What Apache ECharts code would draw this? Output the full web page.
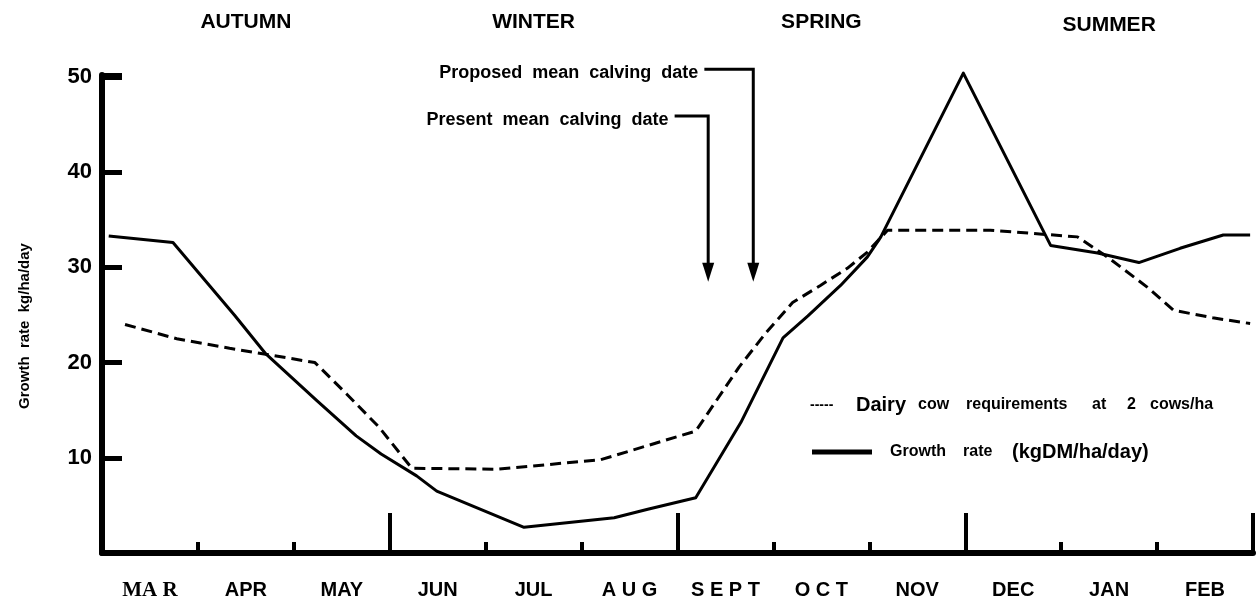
<!DOCTYPE html>
<html><head><meta charset="utf-8">
<script src="https://cdn.jsdelivr.net/npm/echarts@6/dist/echarts.min.js"></script>
<style>html,body{margin:0;padding:0;background:#fff}#c{width:1257px;height:606px}</style>
</head><body><div id="c"></div>
<script>
// x is months elapsed since 1 March (0..12)
const months = ['MA R', 'APR', 'MAY', 'JUN', 'JUL', 'A U G', 'S E P T', 'O C T', 'NOV', 'DEC', 'JAN', 'FEB'];
const seasons = ['AUTUMN', 'WINTER', 'SPRING', 'SUMMER'];
const seasonCentres = [1.5, 4.5, 7.5, 10.5];
const yTickValues = [10, 20, 30, 40, 50];
const growthRate = [
  [0.07, 33.3], [0.74, 32.6], [1.38, 25.0], [1.70, 21.0], [2.24, 16.0], [2.65, 12.3], [2.91, 10.4],
  [3.28, 8.1], [3.49, 6.5], [4.40, 2.7], [5.34, 3.7], [5.69, 4.6], [6.19, 5.8], [6.66, 13.7],
  [7.10, 22.6], [7.36, 24.9], [7.70, 28.1], [7.98, 31.1], [8.12, 33.2], [8.98, 50.4], [9.89, 32.3],
  [10.38, 31.5], [10.81, 30.5], [11.24, 32.0], [11.69, 33.4], [11.97, 33.4]
];
const cowRequirement = [
  [0.24, 24.0], [0.78, 22.5], [1.33, 21.5], [1.69, 20.9], [2.22, 20.0], [2.55, 16.7], [2.89, 13.2],
  [3.23, 8.9], [4.13, 8.8], [5.20, 9.8], [6.19, 12.8], [6.64, 19.5], [6.92, 23.1], [7.20, 26.3],
  [7.49, 28.1], [7.77, 29.9], [7.98, 31.6], [8.19, 33.9], [9.26, 33.9], [10.17, 33.2], [10.48, 31.1],
  [10.90, 27.9], [11.17, 25.5], [11.58, 24.7], [11.97, 24.1]
];
// calving-date arrows: x position, elbow start, top level of the elbow, arrow tip level
const calvingDates = [
  { label: 'Present  mean  calving  date', x: 6.32, elbowX: 5.97, top: 45.9, tip: 28.5 },
  { label: 'Proposed  mean  calving  date', x: 6.79, elbowX: 6.28, top: 50.8, tip: 28.5 }
];

const chart = echarts.init(document.getElementById('c'));
const gridRect = { left: 102, right: 4, top: 75, bottom: 53 };
const black = '#000';
const font = '"Liberation Sans", Arial, sans-serif';

chart.setOption({
  animation: false,
  backgroundColor: '#fff',
  grid: [Object.assign({}, gridRect), Object.assign({}, gridRect), Object.assign({}, gridRect)],
  xAxis: [
    { type: 'value', gridIndex: 0, min: 0, max: 12, interval: 1,
      axisLine: { show: true, onZero: false, lineStyle: { color: black, width: 6 } },
      axisTick: { show: true, inside: true, length: 11, lineStyle: { color: black, width: 4 } },
      axisLabel: { show: false }, splitLine: { show: false } },
    { type: 'value', gridIndex: 1, min: 0, max: 12, interval: 3,
      axisLine: { show: false, onZero: false },
      axisTick: { show: true, inside: true, length: 40, lineStyle: { color: black, width: 4 } },
      axisLabel: { show: false }, splitLine: { show: false } },
    { type: 'category', gridIndex: 2, data: months, boundaryGap: true,
      axisLine: { show: false }, axisTick: { show: false },
      axisLabel: { show: true, interval: 0, hideOverlap: false, margin: 27, color: black, fontFamily: font, fontWeight: 'bold', fontSize: 20,
        formatter: function (v, i) { return i === 0 ? '{s|' + v + '}' : v; },
        rich: { s: { fontFamily: '"Liberation Serif", serif', fontWeight: 'bold', fontSize: 21, color: black } } },
      splitLine: { show: false } }
  ],
  yAxis: [
    { type: 'value', gridIndex: 0, min: 0, max: 50.2, interval: 10,
      name: 'Growth  rate  kg/ha/day', nameLocation: 'middle', nameRotate: 90, nameGap: 70,
      nameTextStyle: { color: black, fontFamily: font, fontWeight: 'bold', fontSize: 15, padding: [0, 0, 0, -24] },
      axisLine: { show: true, onZero: false, lineStyle: { color: black, width: 6 } },
      axisTick: { show: true, inside: true, length: 20, lineStyle: { color: black, width: 5 } },
      axisLabel: { show: true, margin: 10, color: black, fontFamily: font, fontWeight: 'bold', fontSize: 22,
        formatter: function (v) { return yTickValues.indexOf(v) >= 0 ? String(v) : ''; } },
      splitLine: { show: false } },
    { type: 'value', gridIndex: 1, min: 0, max: 50.2, show: false },
    { type: 'value', gridIndex: 2, min: 0, max: 50.2, show: false }
  ],
  series: [
    { name: 'Growth rate (kgDM/ha/day)', type: 'line', xAxisIndex: 0, yAxisIndex: 0, data: growthRate,
      showSymbol: false, symbol: 'none', lineStyle: { color: black, width: 3, join: 'round' }, clip: false },
    { name: 'Dairy cow requirements at 2 cows/ha', type: 'line', xAxisIndex: 0, yAxisIndex: 0, data: cowRequirement,
      showSymbol: false, symbol: 'none', lineStyle: { color: black, width: 3, type: [11, 6] }, clip: false }
  ]
});

function px(p) { return chart.convertToPixel({ gridIndex: 0 }, p); }
const graphics = [];
// season headings
seasons.forEach(function (s, i) {
  const p = px([seasonCentres[i], 0]);
  graphics.push({ type: 'text', x: p[0], y: i === 3 ? 25 : 22, style: { text: s, fill: black, font: 'bold 21px ' + font, align: 'center', verticalAlign: 'middle' } });
});
// calving arrows
calvingDates.forEach(function (d) {
  const a = px([d.elbowX, d.top]);
  const b = px([d.x, d.top]);
  const c = px([d.x, d.tip]);
  graphics.push({ type: 'polyline', shape: { points: [[a[0], a[1]], [b[0], b[1]], [c[0], c[1] - 16]] },
    style: { stroke: black, lineWidth: 3, fill: null } });
  graphics.push({ type: 'polygon', shape: { points: [[c[0] - 6, c[1] - 19], [c[0] + 6, c[1] - 19], [c[0], c[1]]] },
    style: { fill: black } });
  graphics.push({ type: 'text', x: a[0] - 6, y: a[1] + 4, style: { text: d.label, fill: black, font: 'bold 18px ' + font, align: 'right', verticalAlign: 'middle' } });
});
// legend (word by word, as spaced in the original)
const legendWords1 = [['-----', 810, 14], ['Dairy', 856, 20], ['cow', 918, 16], ['requirements', 966, 16], ['at', 1092, 16], ['2', 1127, 16], ['cows/ha', 1150, 16]];
legendWords1.forEach(function (w) {
  graphics.push({ type: 'text', x: w[1], y: 405, style: { text: w[0], fill: black, font: 'bold ' + w[2] + 'px ' + font, verticalAlign: 'middle' } });
});
graphics.push({ type: 'line', shape: { x1: 812, y1: 452, x2: 872, y2: 452 }, style: { stroke: black, lineWidth: 5 } });
const legendWords2 = [['Growth', 890, 16], ['rate', 963, 16], ['(kgDM/ha/day)', 1012, 20]];
legendWords2.forEach(function (w) {
  graphics.push({ type: 'text', x: w[1], y: 452, style: { text: w[0], fill: black, font: 'bold ' + w[2] + 'px ' + font, verticalAlign: 'middle' } });
});
chart.setOption({ graphic: graphics });
</script>
</body></html>
